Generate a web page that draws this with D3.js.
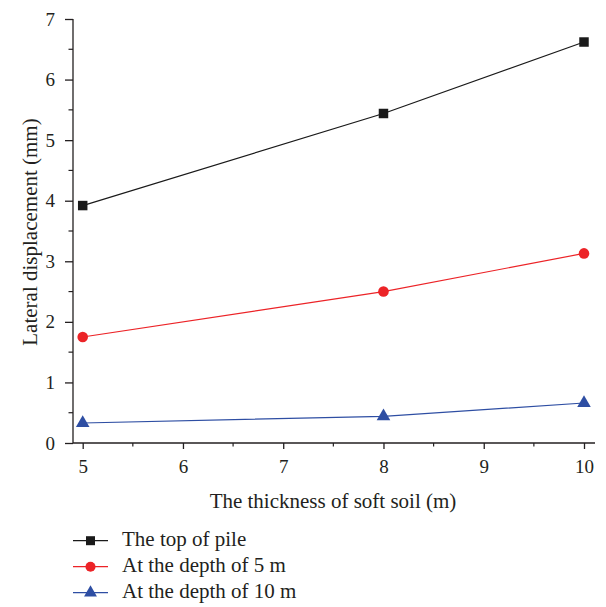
<!DOCTYPE html>
<html><head><meta charset="utf-8">
<script src="https://cdn.jsdelivr.net/npm/d3@7"></script>
<style>body{margin:0;background:#fff}svg{display:block}text{font-family:"Liberation Serif","Times New Roman",serif;fill:#231f20}</style>
</head><body>
<script>
const thickness = [5, 8, 10];
const topOfPile = [3.92, 5.44, 6.62];
const depth5 = [1.75, 2.50, 3.13];
const depth10 = [0.33, 0.44, 0.66];
const seriesNames = ["The top of pile", "At the depth of 5 m", "At the depth of 10 m"];
const xTicks = [5, 6, 7, 8, 9, 10];
const yTicks = [0, 1, 2, 3, 4, 5, 6, 7];
const xLabel = "The thickness of soft soil (m)";
const yLabel = "Lateral displacement (mm)";

const W = 606, H = 607;
const FS = 21, TFS = 19;
const svg = d3.select("body").append("svg").attr("width", W).attr("height", H);
const x = d3.scaleLinear().domain([5, 10]).range([82.7, 584]);
const y = d3.scaleLinear().domain([0, 7]).range([443, 19]);
const colors = ["#1a1a1a", "#ec2327", "#2e4ea3"];
const series = [topOfPile, depth5, depth10];
const shapes = [d3.symbolSquare, d3.symbolCircle, d3.symbolTriangle];
const sizes = [90, 88, 80];

// minor ticks
const xMinor = d3.range(5.5, 10.01, 1);
svg.append("g").selectAll("line").data(xMinor).join("line")
  .attr("x1", d => x(d)).attr("x2", d => x(d)).attr("y1", 443).attr("y2", 446.5)
  .attr("stroke", "#231f20").attr("stroke-width", 1.2);
const yMinor = d3.range(0.5, 7, 1);
svg.append("g").selectAll("line").data(yMinor).join("line")
  .attr("x1", 73).attr("x2", 68.5).attr("y1", d => y(d)).attr("y2", d => y(d))
  .attr("stroke", "#231f20").attr("stroke-width", 1.2);

// axes
const fmt = d3.format("d");
const xAxis = svg.append("g").attr("transform", "translate(0,443)")
  .call(d3.axisBottom(x).tickValues(xTicks).tickFormat(fmt).tickSize(6).tickSizeOuter(0).tickPadding(11));
xAxis.select(".domain").attr("d", "M73,0H595");
const yAxis = svg.append("g").attr("transform", "translate(73,0)")
  .call(d3.axisLeft(y).tickValues(yTicks).tickFormat(fmt).tickSize(8).tickSizeOuter(0).tickPadding(10));
yAxis.select(".domain").attr("d", "M0,443V19");
[xAxis, yAxis].forEach(g => {
  g.selectAll("path,line").attr("stroke", "#231f20").attr("stroke-width", 1.3);
  g.selectAll("text").attr("font-size", TFS).attr("font-family", '"Liberation Serif",serif').attr("fill", "#231f20");
});

svg.append("text").attr("x", 333).attr("y", 508).attr("text-anchor", "middle")
  .attr("font-size", FS).text(xLabel);
svg.append("text").attr("transform", "translate(37,232) rotate(-90)").attr("text-anchor", "middle")
  .attr("font-size", FS).text(yLabel);

const line = d3.line().x((d, i) => x(thickness[i])).y(d => y(d));
series.forEach((s, k) => {
  svg.append("path").datum(s).attr("d", line).attr("fill", "none")
    .attr("stroke", colors[k]).attr("stroke-width", 1.2);
  svg.append("g").selectAll("path").data(s).join("path")
    .attr("transform", (d, i) => `translate(${x(thickness[i])},${y(d)})`)
    .attr("d", d3.symbol().type(shapes[k]).size(sizes[k]))
    .attr("fill", colors[k]);
});

// legend
const lg = svg.append("g");
seriesNames.forEach((name, k) => {
  const cy = 540.7 + k * 26;
  lg.append("line").attr("x1", 73).attr("x2", 108).attr("y1", cy).attr("y2", cy)
    .attr("stroke", colors[k]).attr("stroke-width", 1.2);
  lg.append("path").attr("transform", `translate(90.5,${cy})`)
    .attr("d", d3.symbol().type(shapes[k]).size(sizes[k] * 0.9)).attr("fill", colors[k]);
  lg.append("text").attr("x", 122).attr("y", cy + 5.5).attr("font-size", FS).text(name);
});
</script>
</body></html>
